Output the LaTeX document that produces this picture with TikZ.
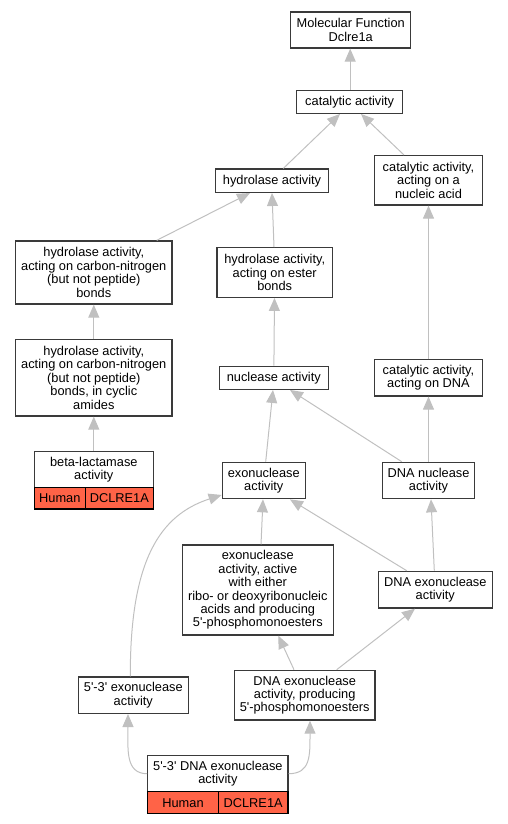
\documentclass[tikz,border=0pt]{standalone}
\usepackage{fontspec}
\setmainfont{Liberation Sans}
\usetikzlibrary{arrows.meta,calc}
\definecolor{edgec}{HTML}{C0C0C0}
\definecolor{boxc}{HTML}{3A3A3A}
\definecolor{tomatoc}{HTML}{FF6347}
\newcommand\fs{\fontsize{12.8}{13.4}\selectfont}
\newcommand\sq{\textquotesingle}
\tikzset{
  box/.style={draw=boxc, line width=1.3pt, fill=white, inner sep=0pt, align=center, font=\fs},
  cell/.style={draw=black, line width=1.3pt, fill=tomatoc, inner sep=0pt, align=center, font=\fs},
  edge/.style={draw=edgec, line width=1pt, -{Triangle[length=13pt,width=11pt]}},
}
\begin{document}
\begin{tikzpicture}[x=1pt,y=-1pt]
\useasboundingbox (0,0) rectangle (507,824);
\node[box, minimum width=120pt, minimum height=36pt] (mf) at (350.7,30) {Molecular Function\\Dclre1a};
\node[box, minimum width=106pt, minimum height=23pt] (cat) at (349.7,101.8) {catalytic activity};
\node[box, minimum width=112.6pt, minimum height=23.3pt] (hyd) at (272,180.7) {hydrolase activity};
\node[box, minimum width=108.4pt, minimum height=49.3pt] (catna) at (428.5,180.3) {catalytic activity,\\acting on a\\nucleic acid};
\node[box, minimum width=156.3pt, minimum height=63pt] (hcn) at (93.8,272.5) {hydrolase activity,\\acting on carbon-nitrogen\\(but not peptide)\\bonds};
\node[box, minimum width=115.3pt, minimum height=49.6pt] (hest) at (274.7,272.5) {hydrolase activity,\\acting on ester\\bonds};
\node[box, minimum width=156.3pt, minimum height=76.3pt] (hcyc) at (93.8,377.8) {hydrolase activity,\\acting on carbon-nitrogen\\(but not peptide)\\bonds, in cyclic\\amides};
\node[box, minimum width=109pt, minimum height=23pt] (nuc) at (273.8,377.8) {nuclease activity};
\node[box, minimum width=108.4pt, minimum height=36.3pt] (catdna) at (428.5,377.8) {catalytic activity,\\acting on DNA};
\node[box, minimum width=119pt, minimum height=35.6pt] (beta) at (93.8,469.5) {beta-lactamase\\activity};
\node[cell, minimum width=51pt, minimum height=21.7pt] (betah) at (59.8,498.2) {Human};
\node[cell, minimum width=68pt, minimum height=21.7pt] (betag) at (119.3,498.2) {DCLRE1A};
\node[box, minimum width=83pt, minimum height=36.4pt] (exo) at (263.8,480.5) {exonuclease\\activity};
\node[box, minimum width=92.4pt, minimum height=36.4pt] (dnanuc) at (428.5,480.5) {DNA nuclease\\activity};
\node[box, minimum width=151pt, minimum height=90pt] (exoact) at (257.8,590) {exonuclease\\activity, active\\with either\\ribo- or deoxyribonucleic\\acids and producing\\5\sq-phosphomonoesters};
\node[box, minimum width=114pt, minimum height=36.7pt] (dnaexo) at (435.3,589.7) {DNA exonuclease\\activity};
\node[box, minimum width=110pt, minimum height=36.3pt] (e53) at (133.3,695.2) {5\sq-3\sq{} exonuclease\\activity};
\node[box, minimum width=140.7pt, minimum height=49.7pt] (dnaexop) at (304.7,695.2) {DNA exonuclease\\activity, producing\\5\sq-phosphomonoesters};
\node[box, minimum width=140.3pt, minimum height=36pt] (d53) at (217.85,773.7) {5\sq-3\sq{} DNA exonuclease\\activity};
\node[cell, minimum width=70.6pt, minimum height=22pt] (d53h) at (183,802.7) {Human};
\node[cell, minimum width=69.7pt, minimum height=22pt] (d53g) at (253.15,802.7) {DCLRE1A};

\draw[edge] ($(cat.north)+(0.5,0)$) -- ($(mf.south)+(-0.5,0)$);
\draw[edge] ($(hyd.north)+(11.3,0)$) -- ($(cat.south)+(-9.7,0)$);
\draw[edge] ($(catna.north)+(-24.5,0)$) -- ($(cat.south)+(11.3,0)$);
\draw[edge] ($(hcn.north)+(62.9,0)$) -- ($(hyd.south)+(-22,0)$);
\draw[edge] ($(hest.north)+(-0.7,0)$) -- (hyd.south);
\draw[edge] (hcyc) -- (hcn);
\draw[edge] (nuc) -- (hest);
\draw[edge] (catdna) -- (catna);
\draw[edge] (beta) -- (hcyc);
\draw[edge] ($(exo.north)+(1.9,0)$) -- ($(nuc.south)+(-0.8,0)$);
\draw[edge] ($(dnanuc.north)+(-26.8,0)$) -- ($(nuc.south)+(16.2,0)$);
\draw[edge] (dnanuc) -- (catdna);
\draw[edge] ($(exoact.north)+(3.2,0)$) -- ($(exo.south)+(-0.8,0)$);
\draw[edge] ($(dnaexo.north)+(-28.6,0)$) -- ($(exo.south)+(26.2,0)$);
\draw[edge] ($(dnaexo.north)+(-1,0)$) -- ($(dnanuc.south)+(2.5,0)$);
\draw[edge] ($(dnaexop.north)+(-10.7,0)$) -- ($(exoact.south)+(20.5,0)$);
\draw[edge] ($(dnaexop.north)+(32,0)$) -- ($(dnaexo.south)+(-20.3,0)$);
\draw[edge] ($(e53.north)+(-3,0)$) .. controls (130,560) and (160,515) .. ($(exo.south west)+(0,-4.4)$);
\draw[edge] (d53.west) .. controls +(-22,0) and +(0,35) .. ($(e53.south)+(-5.3,0)$);
\draw[edge] (d53.east) .. controls +(22,0) and +(0,35) .. ($(dnaexop.south)+(5.3,0)$);
\end{tikzpicture}
\end{document}
